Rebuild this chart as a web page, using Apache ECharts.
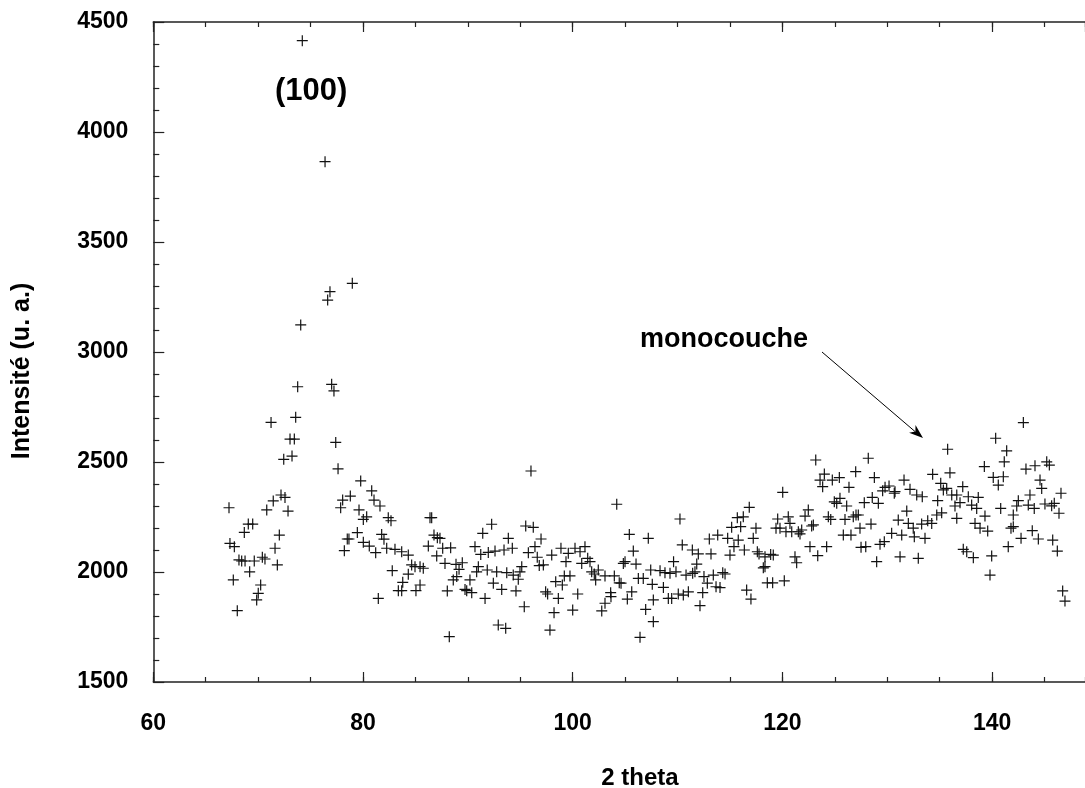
<!DOCTYPE html>
<html>
<head>
<meta charset="utf-8">
<title>Intensité - 2 theta</title>
<script src="https://cdn.jsdelivr.net/npm/echarts@6/dist/echarts.min.js"></script>
<style>
  html, body { margin: 0; padding: 0; background: #fff; }
  #chart { width: 1085px; height: 788px; }
</style>
</head>
<body>
<div id="chart"></div>
<script>
// axes (the scan axis runs off the right edge of the picture)
var xMin = 60, xMax = 148.86, xStep = 20, xMinorStep = 5;
var yMin = 1500, yMax = 4500, yStep = 500;

// points [2 theta, intensité], grouped by zone of the scan
var pic = [
  [74.21, 4415], [76.38, 3865], [78.98, 3312], [76.85, 3274], [76.63, 3236], [74.06, 3123]
];
var zone67_80 = [
  [73.77, 2842], [77.01, 2853], [77.23, 2823], [71.23, 2680], [73.58, 2703], [73.04, 2604],
  [73.45, 2604], [77.40, 2589], [72.44, 2512], [73.23, 2527], [77.62, 2469], [79.78, 2414],
  [67.22, 2292], [71.44, 2323], [72.18, 2350], [72.56, 2339], [70.82, 2282], [72.85, 2277],
  [78.06, 2327], [78.79, 2345], [77.87, 2292], [79.62, 2282], [80.03, 2239], [69.06, 2218],
  [69.48, 2218], [68.68, 2180], [72.02, 2168], [67.31, 2130], [67.73, 2115], [71.61, 2108],
  [78.50, 2150], [78.66, 2150], [78.22, 2097], [79.46, 2179], [80.03, 2135], [68.17, 2055],
  [68.43, 2050], [68.75, 2050], [69.63, 2050], [70.40, 2067], [70.65, 2059], [71.83, 2032],
  [69.19, 2001], [67.63, 1964], [70.24, 1941], [70.01, 1903], [69.86, 1873], [68.01, 1824]
];
var zone80_94 = [
  [80.83, 2369], [81.05, 2327], [81.62, 2300], [80.35, 2251], [82.41, 2247], [82.67, 2233],
  [81.78, 2171], [82.00, 2149], [80.60, 2118], [81.21, 2088], [82.26, 2108], [83.05, 2103],
  [83.69, 2092], [84.32, 2077], [84.64, 2032], [84.96, 2024], [85.44, 2024], [85.75, 2017],
  [82.79, 2006], [84.32, 1990], [83.79, 1953], [83.37, 1915], [83.69, 1915], [81.46, 1880],
  [85.44, 1941], [85.05, 1915], [86.39, 2247], [86.55, 2247], [86.77, 2168], [87.09, 2156],
  [87.34, 2153], [86.23, 2118], [87.60, 2108], [88.36, 2110], [87.03, 2073], [87.82, 2039],
  [88.87, 2035], [89.47, 2042], [89.16, 2012], [88.61, 1964], [88.94, 1979], [88.04, 1914],
  [89.73, 1921], [89.89, 1915], [90.37, 1906], [90.20, 1964], [88.23, 1706], [90.68, 2115],
  [91.23, 2080], [91.42, 2176], [92.27, 2217], [91.00, 2024], [90.84, 2001], [91.85, 2009],
  [92.75, 2001], [93.71, 1997], [91.95, 2089], [92.59, 2095], [93.45, 2100], [93.86, 2153],
  [91.64, 1880], [92.43, 1949], [93.23, 1921], [92.90, 1759], [93.61, 1744]
];
var zone94_108 = [
  [96.02, 2459], [104.20, 2308], [95.52, 2209], [96.24, 2203], [94.24, 2108], [96.98, 2150],
  [96.40, 2115], [95.77, 2088], [96.62, 2067], [96.81, 2029], [97.20, 2032], [95.14, 2024],
  [94.97, 2001], [94.33, 1986], [94.81, 1967], [94.59, 1914], [95.38, 1842], [97.83, 1736],
  [98.22, 1815], [98.63, 1880], [97.42, 1910], [97.61, 1900], [98.00, 2077], [98.88, 2108],
  [99.58, 2085], [99.36, 2047], [100.22, 2108], [100.70, 2092], [101.17, 2115], [100.86, 2039],
  [101.43, 2062], [101.65, 2047], [98.38, 1956], [99.20, 1982], [99.74, 1982], [99.01, 1941],
  [100.48, 1900], [100.00, 1827], [101.81, 2001], [102.06, 1991], [102.44, 2009], [102.19, 1964],
  [103.08, 1982], [103.97, 1982], [104.44, 1951], [104.61, 1949], [103.62, 1906], [103.65, 1888],
  [103.08, 1858], [102.77, 1823], [104.83, 2039], [104.99, 2047], [105.40, 2171], [105.78, 2095],
  [106.04, 2036], [107.21, 2153], [106.26, 1971], [106.73, 1971], [107.44, 2009], [107.59, 1944],
  [105.63, 1910], [105.21, 1877], [106.96, 1830], [107.69, 1873], [107.69, 1774], [106.42, 1703]
];
var zone108_122 = [
  [120.03, 2362], [110.23, 2241], [116.84, 2294], [115.70, 2247], [116.27, 2251], [119.55, 2241],
  [120.56, 2251], [120.72, 2221], [115.16, 2203], [116.02, 2206], [117.48, 2199], [119.39, 2199],
  [119.77, 2199], [120.34, 2183], [120.89, 2183], [121.52, 2183], [113.03, 2150], [113.83, 2168],
  [114.78, 2153], [115.79, 2145], [117.22, 2153], [110.45, 2123], [111.41, 2100], [111.98, 2082],
  [113.19, 2082], [115.38, 2115], [115.00, 2077], [116.37, 2100], [117.61, 2092], [117.77, 2082],
  [118.34, 2069], [118.88, 2080], [119.13, 2077], [118.18, 2019], [118.34, 2024], [121.20, 2069],
  [121.36, 2042], [109.62, 2047], [111.83, 2036], [108.33, 2006], [108.80, 1997], [109.28, 1994],
  [109.85, 2001], [110.81, 1986], [111.44, 1994], [111.66, 2001], [112.52, 1979], [113.41, 1986],
  [112.84, 1949], [114.31, 1997], [114.53, 1991], [113.67, 1933], [114.05, 1929], [108.65, 1930],
  [112.40, 1906], [112.14, 1847], [109.12, 1880], [109.44, 1880], [110.07, 1900], [110.55, 1895],
  [111.03, 1910], [116.59, 1918], [117.00, 1877], [118.56, 1951], [119.07, 1951], [120.18, 1960]
];
var zone122_135 = [
  [123.18, 2509], [128.19, 2517], [124.00, 2445], [123.59, 2418], [123.84, 2388], [124.76, 2418],
  [125.43, 2429], [126.99, 2456], [128.77, 2429], [126.35, 2385], [129.79, 2385], [130.17, 2391],
  [130.74, 2365], [130.67, 2358], [129.56, 2369], [131.60, 2418], [132.17, 2376], [132.81, 2350],
  [133.34, 2342], [134.33, 2444], [135.10, 2403], [135.35, 2373], [134.81, 2324], [124.95, 2319],
  [125.18, 2312], [125.49, 2335], [126.13, 2300], [127.81, 2315], [128.57, 2339], [129.15, 2312],
  [122.47, 2282], [122.16, 2254], [124.38, 2251], [124.61, 2239], [125.97, 2239], [127.02, 2259],
  [126.76, 2251], [127.24, 2259], [128.45, 2218], [127.40, 2199], [131.86, 2277], [131.05, 2236],
  [132.01, 2221], [132.48, 2199], [133.28, 2218], [133.86, 2233], [134.24, 2221], [134.72, 2259],
  [135.19, 2269], [122.95, 2214], [122.79, 2209], [121.84, 2191], [121.68, 2173], [125.81, 2168],
  [126.54, 2168], [130.42, 2176], [131.38, 2168], [132.58, 2160], [133.60, 2153], [129.72, 2138],
  [129.31, 2126], [122.63, 2115], [124.22, 2115], [123.37, 2074], [127.50, 2112], [127.95, 2115],
  [131.22, 2069], [132.96, 2062], [128.99, 2047]
];
var zone135_147 = [
  [142.98, 2679], [140.34, 2608], [135.76, 2558], [141.39, 2551], [141.16, 2501], [135.98, 2451],
  [139.26, 2479], [143.23, 2468], [144.09, 2483], [145.21, 2501], [145.46, 2486], [140.11, 2430],
  [141.07, 2433], [140.59, 2395], [144.57, 2418], [144.73, 2380], [146.57, 2358], [143.61, 2350],
  [142.50, 2324], [142.35, 2300], [143.45, 2304], [144.02, 2289], [145.04, 2309], [145.68, 2301],
  [145.93, 2312], [146.38, 2267], [140.82, 2289], [142.02, 2259], [135.67, 2380], [136.15, 2350],
  [136.63, 2350], [137.20, 2388], [137.73, 2342], [138.68, 2339], [136.46, 2300], [136.94, 2315],
  [138.05, 2304], [138.53, 2289], [139.32, 2254], [136.63, 2244], [138.37, 2221], [138.85, 2199],
  [139.58, 2186], [137.25, 2103], [137.58, 2092], [138.21, 2065], [139.96, 2073], [139.80, 1986],
  [141.54, 2115], [142.76, 2153], [143.83, 2188], [144.41, 2150], [142.02, 2206], [141.80, 2199],
  [145.78, 2145], [146.22, 2095], [146.73, 1914], [146.95, 1868]
];

var allPoints = [].concat(pic, zone67_80, zone80_94, zone94_108, zone108_122, zone122_135, zone135_147);

var chart = echarts.init(document.getElementById('chart'), null, { renderer: 'canvas' });

var axisLine = { show: true, onZero: false, lineStyle: { color: '#222', width: 1.5 } };
var noLine = { show: false, onZero: false };
var tickStyle = { color: '#222', width: 1.2 };
var labelFont = { color: '#000', fontFamily: 'Liberation Sans, Arial, sans-serif', fontWeight: 'bold', fontSize: 23 };
var plus = 'path://M0,5.35H12V6.65H0Z M5.35,0H6.65V12H5.35Z';

// only the round 20° values get a label
function xLabel(v) {
  return Math.abs(v % xStep) < 1e-6 ? String(v) : '';
}
function yLabel(v) {
  return String(v);
}

// major + minor tick axes, for the bottom and the top edge
function xAxes(pos) {
  return [
    {
      type: 'value', position: pos, min: xMin, max: xMax, interval: xStep,
      axisLine: axisLine,
      axisTick: { show: true, inside: true, length: 10, lineStyle: tickStyle },
      splitLine: { show: false },
      axisLabel: pos === 'bottom'
        ? Object.assign({ margin: 30, formatter: xLabel, showMaxLabel: false }, labelFont)
        : { show: false }
    },
    {
      type: 'value', position: pos, min: xMin, max: xMax, interval: xMinorStep,
      axisLine: noLine,
      axisTick: { show: true, inside: true, length: 5, lineStyle: tickStyle },
      splitLine: { show: false },
      axisLabel: { show: false }
    }
  ];
}

var option = {
  animation: false,
  backgroundColor: '#fff',
  grid: { left: 153.3, top: 22, right: 0, bottom: 106, containLabel: false },
  xAxis: xAxes('bottom').concat(xAxes('top')),
  yAxis: {
    type: 'value', position: 'left', min: yMin, max: yMax, interval: yStep,
    axisLine: axisLine,
    axisTick: { show: true, inside: true, length: 11, lineStyle: tickStyle },
    minorTick: { show: true, splitNumber: 5, length: 6, lineStyle: tickStyle },
    splitLine: { show: false },
    axisLabel: Object.assign({ margin: 25, formatter: yLabel }, labelFont)
  },
  series: [{
    type: 'scatter',
    xAxisIndex: 0,
    data: allPoints,
    symbol: plus,
    symbolSize: 11,
    itemStyle: { color: '#111', opacity: 1 },
    emphasis: { disabled: true },
    silent: true
  }],
  graphic: [
    { type: 'text', left: 275, top: 76, style: { text: '(100)', font: 'bold 31px "Liberation Sans", Arial, sans-serif', fill: '#000' } },
    { type: 'text', left: 640, top: 326, style: { text: 'monocouche', font: 'bold 27px "Liberation Sans", Arial, sans-serif', fill: '#000' } },
    { type: 'text', x: 640, y: 778, style: { text: '2 theta', font: 'bold 24px "Liberation Sans", Arial, sans-serif', fill: '#000', align: 'center', verticalAlign: 'middle' } },
    { type: 'text', x: 22, y: 371, rotation: Math.PI / 2, style: { text: 'Intensité (u. a.)', font: 'bold 25px "Liberation Sans", Arial, sans-serif', fill: '#000', align: 'center', verticalAlign: 'middle' } },
    { type: 'line', shape: { x1: 822, y1: 352, x2: 915, y2: 431.5 }, style: { stroke: '#000', lineWidth: 1 } },
    { type: 'polygon', shape: { points: [[923, 438], [909.1, 432.7], [915.4, 431.5], [915.5, 425.1]] }, style: { fill: '#000' } }
  ]
};

chart.setOption(option);
</script>
</body>
</html>
